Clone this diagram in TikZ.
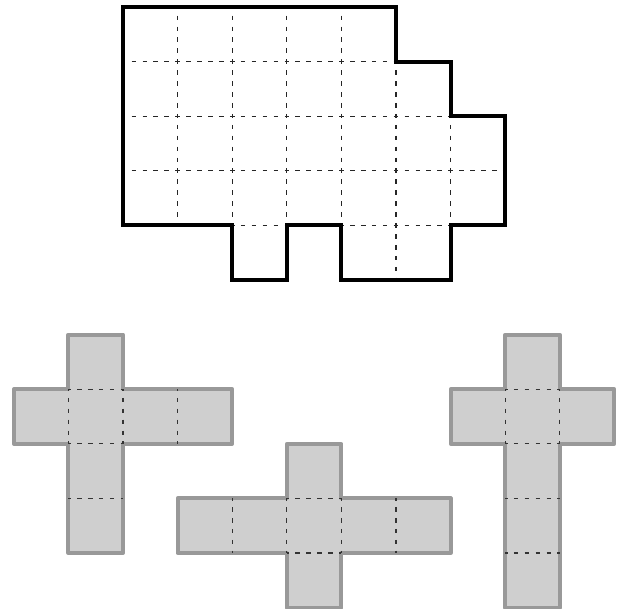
\documentclass[tikz,border=0pt]{standalone}
\begin{document}
\begin{tikzpicture}[y=-1cm,
  gridline/.style={line width=0.65pt, draw=black!85, dash pattern=on 2.4pt off 3.2906pt, dash phase=1.2pt},
  blackoutline/.style={line width=2pt, draw=black, line join=miter},
  grayshape/.style={line width=2pt, draw=black!40, fill=black!19, line join=round},
  grayline/.style={line width=0.65pt, draw=black!80, dash pattern=on 2.4pt off 3.2906pt, dash phase=1.2pt}]
\useasboundingbox (-2.253,-0.128) rectangle (9.176,11.026);
% top shape dashed interior
\foreach \x/\a/\b in {1/0/4, 2/0/4, 3/0/4, 4/0/4, 5/1/5, 6/2/4}{
  \foreach \r in {\a,...,\b}{\ifnum\r<\b \draw[gridline] (\x,\r) -- (\x,\r+1);\fi}
}
\foreach \y/\a/\b in {1/0/5, 2/0/6, 3/0/7, 4/2/3, 4/4/6}{
  \foreach \c in {\a,...,\b}{\ifnum\c<\b \draw[gridline] (\c,\y) -- (\c+1,\y);\fi}
}
\draw[blackoutline] (0,0) -- (5,0) -- (5,1) -- (6,1) -- (6,2) -- (7,2) -- (7,4) -- (6,4) -- (6,5) -- (4,5) -- (4,4) -- (3,4) -- (3,5) -- (2,5) -- (2,4) -- (0,4) -- cycle;
% left cross
\draw[grayshape] (-1,6) -- (0,6) -- (0,7) -- (2,7) -- (2,8) -- (0,8) -- (0,10) -- (-1,10) -- (-1,8) -- (-2,8) -- (-2,7) -- (-1,7) -- cycle;
\foreach \x in {-1,0,1}{\draw[grayline] (\x,7) -- (\x,8);}
\foreach \y in {7,8,9}{\draw[grayline] (-1,\y) -- (0,\y);}
% middle cross
\draw[grayshape] (3,8) -- (4,8) -- (4,9) -- (6,9) -- (6,10) -- (4,10) -- (4,11) -- (3,11) -- (3,10) -- (1,10) -- (1,9) -- (3,9) -- cycle;
\foreach \x in {2,3,4,5}{\draw[grayline] (\x,9) -- (\x,10);}
\foreach \y in {9,10}{\draw[grayline] (3,\y) -- (4,\y);}
% right cross
\draw[grayshape] (7,6) -- (8,6) -- (8,7) -- (9,7) -- (9,8) -- (8,8) -- (8,11) -- (7,11) -- (7,8) -- (6,8) -- (6,7) -- (7,7) -- cycle;
\foreach \x in {7,8}{\draw[grayline] (\x,7) -- (\x,8);}
\foreach \y in {7,8,9,10}{\draw[grayline] (7,\y) -- (8,\y);}
\end{tikzpicture}
\end{document}
